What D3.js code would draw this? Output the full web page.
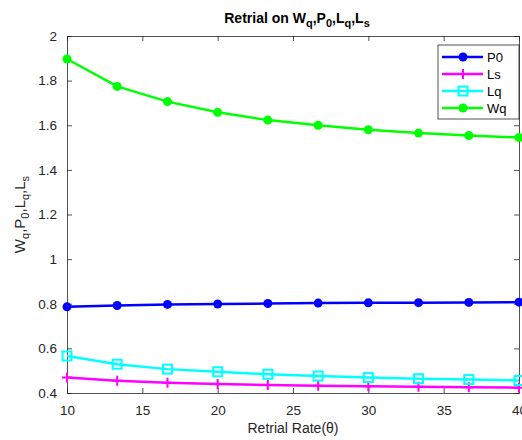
<!DOCTYPE html>
<html>
<head>
<meta charset="utf-8">
<script src="https://cdn.jsdelivr.net/npm/d3@7"></script>
<style>
  body { margin: 0; background: #fff; }
  svg { font-family: "Liberation Sans", Arial, sans-serif; }
</style>
</head>
<body>
<div id="chart"></div>
<script>
// retrial rate values (x)
const theta = [10, 13.33, 16.67, 20, 23.33, 26.67, 30, 33.33, 36.67, 40];

const p0 = [0.786, 0.792, 0.797, 0.799, 0.801, 0.803, 0.804, 0.805, 0.806, 0.807];
const ls = [0.469, 0.455, 0.446, 0.440, 0.436, 0.433, 0.430, 0.428, 0.426, 0.424];
const lq = [0.566, 0.529, 0.507, 0.495, 0.484, 0.476, 0.469, 0.464, 0.460, 0.456];
const wq = [1.897, 1.774, 1.706, 1.658, 1.623, 1.600, 1.580, 1.565, 1.554, 1.545];

const xTicks = [10, 15, 20, 25, 30, 35, 40];
const yTicks = [0.4, 0.6, 0.8, 1, 1.2, 1.4, 1.6, 1.8, 2];

const series = [
    {name: "P0", values: p0, color: "#0000ff", marker: "circle"},
    {name: "Ls", values: ls, color: "#ff00ff", marker: "plus"},
    {name: "Lq", values: lq, color: "#00ffff", marker: "square"},
    {name: "Wq", values: wq, color: "#00ff00", marker: "circle"}
];

const width = 522, height = 440;
const margin = {top: 36, right: 3, bottom: 47, left: 67};
const innerW = 519 - margin.left;
const innerH = 393 - margin.top;

const svg = d3.select("#chart").append("svg")
    .attr("width", width)
    .attr("height", height);

const g = svg.append("g")
    .attr("transform", `translate(${margin.left},${margin.top})`);

const x = d3.scaleLinear().domain([10, 40]).range([0, innerW]);
const y = d3.scaleLinear().domain([0.4, 2]).range([innerH, 0]);

const axisColor = "#262626";
const tickLen = 5;

function styleAxis(sel, showText) {
    sel.select(".domain").attr("stroke", axisColor).attr("stroke-width", 0.8);
    sel.selectAll(".tick line").attr("stroke", axisColor).attr("stroke-width", 0.8);
    sel.selectAll(".tick text")
        .attr("fill", "#262626")
        .style("font-size", "13.5px")
        .style("display", showText ? null : "none");
}

// bottom and top x axes (ticks inward)
g.append("g")
    .attr("transform", `translate(0,${innerH})`)
    .call(d3.axisBottom(x).tickValues(xTicks).tickSizeInner(-tickLen).tickSizeOuter(0).tickPadding(12))
    .call(s => styleAxis(s, true));

g.append("g")
    .call(d3.axisTop(x).tickValues(xTicks).tickSizeInner(-tickLen).tickSizeOuter(0))
    .call(s => styleAxis(s, false));

// left and right y axes
g.append("g")
    .call(d3.axisLeft(y).tickValues(yTicks).tickFormat(d3.format("~g")).tickSizeInner(-tickLen).tickSizeOuter(0).tickPadding(10))
    .call(s => styleAxis(s, true));

g.append("g")
    .attr("transform", `translate(${innerW},0)`)
    .call(d3.axisRight(y).tickValues(yTicks).tickSizeInner(-tickLen).tickSizeOuter(0))
    .call(s => styleAxis(s, false));

const line = d3.line()
    .x((d, i) => x(theta[i]))
    .y(d => y(d));

function drawMarker(sel, type, color) {
    if (type === "circle") {
        sel.append("circle").attr("r", 4.5).attr("fill", color);
    } else if (type === "square") {
        sel.append("rect")
            .attr("x", -4.5).attr("y", -4.5)
            .attr("width", 9).attr("height", 9)
            .attr("fill", "none")
            .attr("stroke", color)
            .attr("stroke-width", 2);
    } else if (type === "plus") {
        sel.append("path")
            .attr("d", "M-5,0H5M0,-5V5")
            .attr("stroke", color)
            .attr("stroke-width", 2);
    }
}

series.forEach(s => {
    const sg = g.append("g").attr("class", "series");
    sg.append("path")
        .datum(s.values)
        .attr("d", line)
        .attr("fill", "none")
        .attr("stroke", s.color)
        .attr("stroke-width", 2.5);

    sg.selectAll(".marker")
        .data(s.values)
        .enter()
        .append("g")
        .attr("class", "marker")
        .attr("transform", (d, i) => `translate(${x(theta[i])},${y(d)})`)
        .each(function() { drawMarker(d3.select(this), s.marker, s.color); });
});

// legend
const legend = svg.append("g").attr("transform", "translate(438,45)");
legend.append("rect")
    .attr("width", 81).attr("height", 74)
    .attr("fill", "#fff")
    .attr("stroke", axisColor)
    .attr("stroke-width", 0.8);

series.forEach((s, i) => {
    const ly = 12 + i * 17;
    const item = legend.append("g").attr("transform", `translate(0,${ly})`);
    item.append("line")
        .attr("x1", 4).attr("x2", 45)
        .attr("stroke", s.color).attr("stroke-width", 2.5);
    const m = item.append("g").attr("transform", "translate(25,0)");
    drawMarker(m, s.marker, s.color);
    item.append("text")
        .attr("x", 49).attr("y", 5)
        .style("font-size", "13px")
        .attr("fill", "#000")
        .text(s.name);
});

// title
const title = svg.append("text")
    .attr("x", 297).attr("y", 23)
    .attr("text-anchor", "middle")
    .style("font-size", "14px")
    .style("font-weight", "bold")
    .attr("fill", "#000");
title.append("tspan").text("Retrial on W");
title.append("tspan").attr("dy", 4).style("font-size", "11px").text("q");
title.append("tspan").attr("dy", -4).text(",P");
title.append("tspan").attr("dy", 4).style("font-size", "11px").text("0");
title.append("tspan").attr("dy", -4).text(",L");
title.append("tspan").attr("dy", 4).style("font-size", "11px").text("q");
title.append("tspan").attr("dy", -4).text(",L");
title.append("tspan").attr("dy", 4).style("font-size", "11px").text("s");

// x label
svg.append("text")
    .attr("x", margin.left + innerW / 2).attr("y", 433)
    .attr("text-anchor", "middle")
    .style("font-size", "14px")
    .attr("fill", "#262626")
    .text("Retrial Rate(θ)");

// y label
const yl = svg.append("text")
    .attr("transform", `translate(25,${margin.top + innerH / 2}) rotate(-90)`)
    .attr("text-anchor", "middle")
    .style("font-size", "15px")
    .attr("fill", "#262626");
yl.append("tspan").text("W");
yl.append("tspan").attr("dy", 4).style("font-size", "11px").text("q");
yl.append("tspan").attr("dy", -4).text(",P");
yl.append("tspan").attr("dy", 4).style("font-size", "11px").text("0");
yl.append("tspan").attr("dy", -4).text(",L");
yl.append("tspan").attr("dy", 4).style("font-size", "11px").text("q");
yl.append("tspan").attr("dy", -4).text(",L");
yl.append("tspan").attr("dy", 4).style("font-size", "11px").text("s");
</script>
</body>
</html>
